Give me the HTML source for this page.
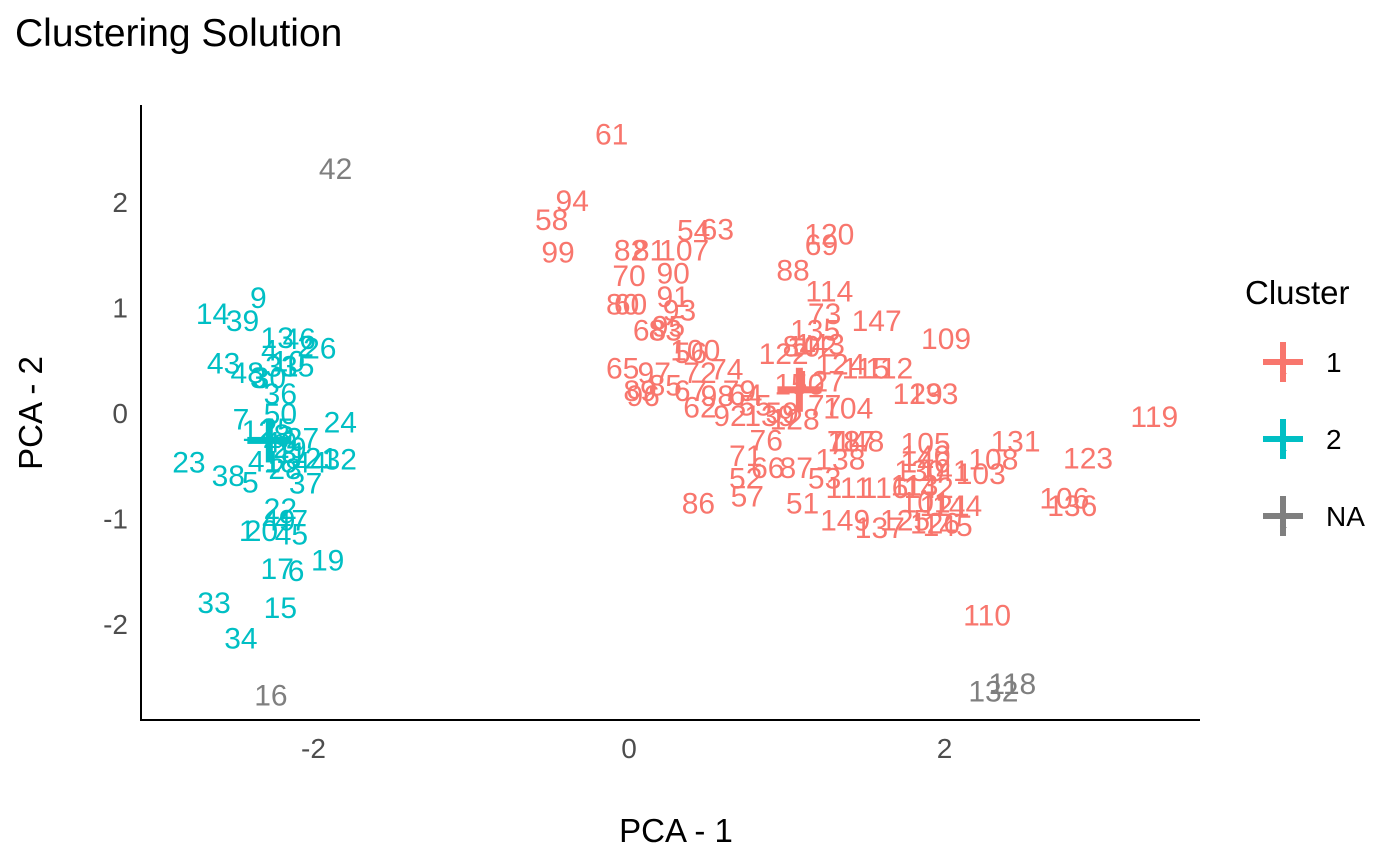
<!DOCTYPE html>
<html><head><meta charset="utf-8"><style>
body{margin:0;background:#fff;}
svg{display:block;font-family:"Liberation Sans",sans-serif;}
</style></head><body>
<svg id="chart" width="1400" height="865">
<text x="15" y="46" font-size="39" fill="#000">Clustering Solution</text>
<line x1="141" y1="105" x2="141" y2="721" stroke="#000" stroke-width="2"/>
<line x1="140" y1="720" x2="1200" y2="720" stroke="#000" stroke-width="2"/>
<text x="676" y="842" font-size="33" text-anchor="middle">PCA - 1</text>
<text transform="translate(42,413) rotate(-90)" font-size="33" text-anchor="middle">PCA - 2</text>
<g id="ticks"></g>
<g id="marks"></g>
<g id="legend">
<text x="1245" y="304" font-size="33">Cluster</text>
</g>
</svg>
<script>
const xTicks = [-2, 0, 2];
const yTicks = [2, 1, 0, -1, -2];
const clusterNames = ["1", "2", "NA"];
const clusterColors = ["#F8766D", "#00BFC4", "#7F7F7F"];

const c1Labels = [61,94,58,99,54,63,120,69,82,81,107,70,90,88,114,91,80,60,93,147,73,135,109,68,83,95,100,56,122,84,102,143,65,97,72,74,124,115,112,89,96,85,67,79,64,98,129,133,127,150,62,92,55,59,139,128,77,104,76,78,148,117,105,131,140,146,108,123,71,138,66,87,52,53,130,141,103,111,116,113,142,57,86,51,106,136,101,144,121,149,137,125,126,145,110,119];
const c1X = [-0.11,-0.36,-0.49,-0.45,0.41,0.56,1.27,1.22,0.01,0.13,0.35,0,0.28,1.04,1.27,0.28,-0.04,0.01,0.32,1.57,1.24,1.18,2.01,0.13,0.23,0.25,0.42,0.39,0.98,1.08,1.16,1.21,-0.04,0.16,0.45,0.62,1.34,1.50,1.65,0.07,0.09,0.23,0.39,0.70,0.74,0.56,1.83,1.93,1.21,1.08,0.45,0.64,0.80,0.97,0.89,1.05,1.24,1.39,0.87,1.36,1.46,1.41,1.88,2.45,1.88,1.88,2.31,2.91,0.74,1.34,0.88,1.06,0.74,1.24,1.84,2.00,2.23,1.39,1.62,1.81,1.90,0.75,0.44,1.10,2.76,2.81,1.88,2.08,2.00,1.37,1.59,1.75,1.94,2.02,2.27,3.33];
const c1Y = [2.65,2.02,1.84,1.53,1.74,1.75,1.70,1.60,1.55,1.55,1.55,1.31,1.33,1.36,1.16,1.11,1.04,1.04,0.98,0.88,0.95,0.79,0.71,0.79,0.79,0.83,0.60,0.58,0.57,0.64,0.64,0.66,0.43,0.39,0.39,0.42,0.47,0.43,0.43,0.22,0.17,0.27,0.22,0.22,0.18,0.17,0.19,0.19,0.31,0.28,0.06,-0.02,0.08,0.01,-0.02,-0.05,0.08,0.05,-0.25,-0.26,-0.26,-0.26,-0.28,-0.26,-0.40,-0.46,-0.43,-0.42,-0.40,-0.43,-0.51,-0.51,-0.61,-0.61,-0.54,-0.54,-0.57,-0.70,-0.70,-0.68,-0.70,-0.78,-0.85,-0.85,-0.80,-0.87,-0.84,-0.87,-0.87,-1.01,-1.08,-1.01,-1.04,-1.06,-1.91,-0.03];

const c2Labels = [9,14,39,13,46,26,2,4,10,31,35,43,48,3,30,36,50,7,24,12,25,8,40,27,29,11,23,41,18,28,44,21,32,38,5,37,22,49,47,1,20,45,17,6,19,33,15,34];
const c2X = [-2.35,-2.64,-2.45,-2.23,-2.09,-1.96,-2.05,-2.28,-2.16,-2.20,-2.10,-2.57,-2.42,-2.35,-2.28,-2.21,-2.21,-2.46,-1.83,-2.35,-2.23,-2.20,-2.21,-2.07,-2.15,-2.14,-2.79,-2.31,-2.21,-2.18,-2.02,-1.95,-1.83,-2.54,-2.40,-2.05,-2.21,-2.22,-2.14,-2.42,-2.33,-2.14,-2.23,-2.11,-1.91,-2.63,-2.21,-2.46];
const c2Y = [1.10,0.95,0.88,0.72,0.71,0.62,0.64,0.60,0.50,0.45,0.45,0.48,0.39,0.34,0.34,0.19,0,-0.05,-0.08,-0.16,-0.14,-0.20,-0.27,-0.23,-0.32,-0.37,-0.46,-0.45,-0.46,-0.52,-0.46,-0.42,-0.43,-0.59,-0.65,-0.66,-0.90,-1.01,-1.01,-1.11,-1.11,-1.14,-1.47,-1.49,-1.39,-1.79,-1.84,-2.13];

const naLabels = [42,16,118,132];
const naX = [-1.86,-2.27,2.43,2.31];
const naY = [2.32,-2.67,-2.56,-2.63];

const centroidX = [1.08, -2.28];
const centroidY = [0.22, -0.26];

const NS = "http://www.w3.org/2000/svg";
function sx(v){ return 629 + v*157.75; }
function sy(v){ return 413 - v*105.5; }

const ticksG = document.getElementById('ticks');
xTicks.forEach(t=>{
  const e=document.createElementNS(NS,'text');
  e.setAttribute('x',sx(t)); e.setAttribute('y',758);
  e.setAttribute('font-size','28'); e.setAttribute('fill','#4d4d4d'); e.setAttribute('text-anchor','middle');
  e.textContent = t<0 ? '-'+Math.abs(t) : String(t);
  
  
  ticksG.appendChild(e);
});
yTicks.forEach(t=>{
  const e=document.createElementNS(NS,'text');
  e.setAttribute('x',128); e.setAttribute('y',sy(t)+10);
  e.setAttribute('font-size','28'); e.setAttribute('fill','#4d4d4d'); e.setAttribute('text-anchor','end');
  e.textContent = t<0 ? '-'+Math.abs(t) : String(t);
  
  
  ticksG.appendChild(e);
});

const marks = document.getElementById('marks');
function drawLabels(labels, xs, ys, color, name){
  labels.forEach((l,i)=>{
    const e=document.createElementNS(NS,'text');
    e.setAttribute('x',sx(xs[i])); e.setAttribute('y',sy(ys[i])+11);
    e.setAttribute('font-size','30'); e.setAttribute('fill',color); e.setAttribute('text-anchor','middle');
    e.textContent = String(l);
    
    
    marks.appendChild(e);
  });
}
drawLabels(c1Labels,c1X,c1Y,clusterColors[0],'cluster-1-point-label');
drawLabels(c2Labels,c2X,c2Y,clusterColors[1],'cluster-2-point-label');
drawLabels(naLabels,naX,naY,clusterColors[2],'na-point-label');

function cross(parent,cx,cy,r,w,color){
  const g=document.createElementNS(NS,'g');
  const h=document.createElementNS(NS,'rect');
  h.setAttribute('x',cx-r); h.setAttribute('y',cy-w/2); h.setAttribute('width',2*r); h.setAttribute('height',w); h.setAttribute('fill',color);
  const v=document.createElementNS(NS,'rect');
  v.setAttribute('x',cx-w/2); v.setAttribute('y',cy-r); v.setAttribute('width',w); v.setAttribute('height',2*r); v.setAttribute('fill',color);
  g.appendChild(h); g.appendChild(v); parent.appendChild(g);
  return g;
}
centroidX.forEach((cxv,i)=>{
  const g = cross(marks, sx(cxv), sy(centroidY[i]), 22, 7, clusterColors[i]);
  
  
});

const legend = document.getElementById('legend');
clusterNames.forEach((n,i)=>{
  const cy = 362 + i*77;
  const g = cross(legend, 1283, cy, 20, 6, clusterColors[i]);
  
  
  const a=document.createElementNS(NS,'text');
  a.setAttribute('x',1283); a.setAttribute('y',cy+12); a.setAttribute('font-size','13');
  a.setAttribute('fill',clusterColors[i]); a.setAttribute('text-anchor','middle');
  a.textContent='a';
  
  
  legend.appendChild(a);
  const t=document.createElementNS(NS,'text');
  t.setAttribute('x',1326); t.setAttribute('y',cy+10); t.setAttribute('font-size','28');
  t.textContent=n;
  
  
  legend.appendChild(t);
});
</script>
</body></html>
